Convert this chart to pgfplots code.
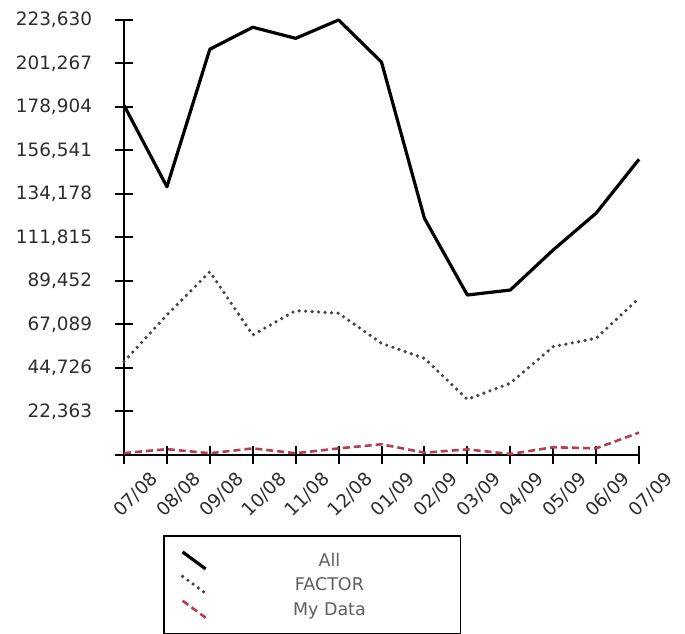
\documentclass[border=0pt]{standalone}
\usepackage{fontspec}
\setmainfont{DejaVu Sans}
\usepackage{pgfplots}
\pgfplotsset{compat=1.18}
\definecolor{tickgray}{RGB}{45,45,45}
\definecolor{leggray}{RGB}{95,95,95}
\definecolor{factorgray}{RGB}{70,70,70}
\definecolor{myred}{RGB}{185,60,80}
\begin{document}
\begin{tikzpicture}
\useasboundingbox (0,0) rectangle (685bp,634bp);
\begin{axis}[
  at={(124bp,179bp)}, anchor=south west,
  scale only axis, width=515bp, height=435bp,
  xmin=0, xmax=12, ymin=0, ymax=223630,
  scaled y ticks=false,
  axis x line*=bottom, axis y line*=left,
  axis line style={line width=2bp, black},
  tick style={line width=2bp, black},
  major tick length=17bp, tick align=center,
  xtick={0,1,2,3,4,5,6,7,8,9,10,11,12},
  xticklabels={07/08,08/08,09/08,10/08,11/08,12/08,01/09,02/09,03/09,04/09,05/09,06/09,07/09},
  ytick={0,22363,44726,67089,89452,111815,134178,156541,178904,201267,223630},
  yticklabels={,{22,363},{44,726},{67,089},{89,452},{111,815},{134,178},{156,541},{178,904},{201,267},{223,630}},
  tick label style={font=\fontsize{18.4bp}{22bp}\selectfont, text=tickgray},
  xticklabel style={xshift=33bp, yshift=-10bp, rotate=45, anchor=east},
  yticklabel style={xshift=-20bp},
  clip=false,
  legend style={at={(0.0757,-0.1839)}, anchor=north west, draw=black, line width=1.7bp,
    font=\fontsize{17.5bp}{21bp}\selectfont, text=leggray,
    inner xsep=17bp, inner ysep=14.5bp, row sep=4bp, column sep=8bp,
    nodes={inner sep=1.5bp}},
  legend image code/.code={\draw[#1] (0bp,8bp) -- (23bp,-9bp);},
]
\addplot[black, line width=3.2bp, line join=round] coordinates {
(0,179800) (1,137900) (2,208600) (3,219900) (4,214200) (5,223630) (6,202000)
(7,121700) (8,82250) (9,84800) (10,105400) (11,124300) (12,152000)};
\addlegendentry{\makebox[225bp]{\strut All}}
\addplot[factorgray, line width=3.6bp, line cap=round, dash pattern=on 0bp off 6.5bp] coordinates {
(0,48000) (1,72000) (2,94200) (3,61700) (4,74200) (5,72900) (6,57400)
(7,49700) (8,28600) (9,36900) (10,55700) (11,60000) (12,80600)};
\addlegendentry{\makebox[225bp]{\strut FACTOR}}
\addplot[myred, line width=2.6bp, dash pattern=on 7bp off 4bp] coordinates {
(0,1000) (1,3000) (2,900) (3,3400) (4,900) (5,3400) (6,5500)
(7,1200) (8,2900) (9,500) (10,4000) (11,3400) (12,11500)};
\addlegendentry{\makebox[225bp]{\strut My Data}}
\end{axis}
\end{tikzpicture}
\end{document}
